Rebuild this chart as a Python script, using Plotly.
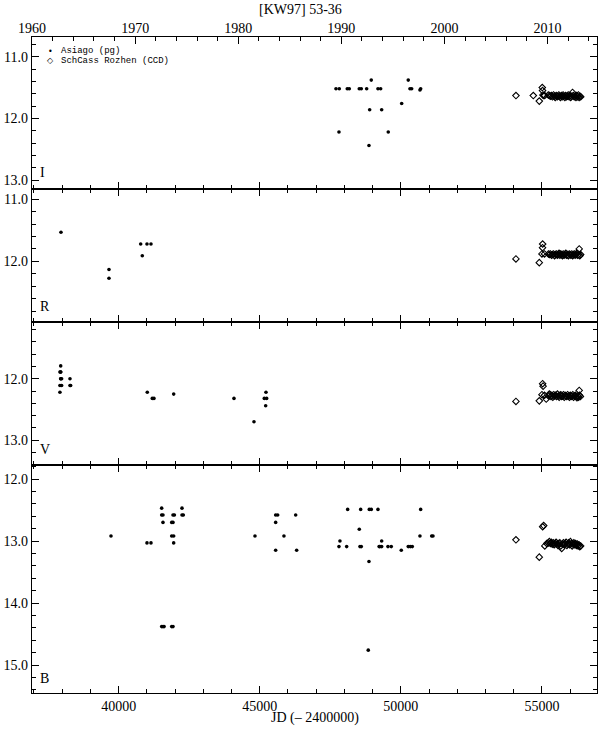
import plotly.graph_objects as go

# ---------------- DATA ----------------
# Panel I
I_asi_jd = [47701, 47818, 48101, 48172, 48526, 48597, 48788, 49189, 49284, 50323, 50383, 50677, 50702,
            48952, 50262, 48895, 49320, 50029, 47807, 49554, 48870]
I_asi_mag = [11.52, 11.52, 11.52, 11.52, 11.52, 11.52, 11.52, 11.52, 11.52, 11.52, 11.52, 11.54, 11.52,
             11.38, 11.38, 11.86, 11.86, 11.76, 12.22, 12.22, 12.44]
I_ccd_jd = [54078, 54692, 54905, 55010, 55020, 55035, 55060, 55095,
            55225, 55262, 55300, 55338, 55371, 55410, 55445, 55470, 55505, 55540, 55566, 55598,
            55630, 55655, 55690, 55718, 55748, 55775, 55812, 55840, 55868, 55902, 55930, 55962,
            55994, 56020, 56052, 56083, 56110, 56142, 56170, 56205, 56228, 56262, 56290, 56318,
            56345, 56372]
I_ccd_mag = [11.63, 11.63, 11.72, 11.50, 11.55, 11.62, 11.63, 11.63,
             11.62, 11.63, 11.64, 11.63, 11.65, 11.62, 11.64, 11.66, 11.63, 11.65, 11.64, 11.62,
             11.64, 11.66, 11.63, 11.65, 11.62, 11.64, 11.66, 11.63, 11.65, 11.64, 11.62, 11.65,
             11.63, 11.66, 11.64, 11.58, 11.63, 11.65, 11.64, 11.66, 11.63, 11.65, 11.62, 11.66,
             11.64, 11.65]

# Panel R
R_asi_jd = [37957, 39658, 39658, 40781, 40838, 41004, 41146]
R_asi_mag = [11.53, 12.13, 12.27, 11.72, 11.91, 11.72, 11.72]
R_ccd_jd = [54078, 54905, 55024, 55020, 55000, 55090,
            55230, 55265, 55300, 55340, 55372, 55410, 55446, 55478, 55510, 55545, 55572, 55605,
            55636, 55662, 55695, 55725, 55752, 55784, 55815, 55846, 55870, 55905, 55936, 55966,
            55998, 56025, 56058, 56088, 56115, 56148, 56176, 56210, 56236, 56266, 56296, 56340,
            56370, 56320]
R_ccd_mag = [11.96, 12.02, 11.72, 11.78, 11.88, 11.88,
             11.88, 11.89, 11.88, 11.90, 11.89, 11.88, 11.91, 11.89, 11.88, 11.90, 11.89, 11.87,
             11.90, 11.88, 11.89, 11.91, 11.88, 11.90, 11.89, 11.87, 11.90, 11.89, 11.91, 11.88,
             11.89, 11.90, 11.88, 11.91, 11.89, 11.88, 11.90, 11.89, 11.87, 11.90, 11.89, 11.91,
             11.89, 11.80]

# Panel V
V_asi_jd = [37947, 37947, 37947, 37947, 37947, 37920, 37980, 37920, 37980, 37920,
            38276, 38276, 38300,
            41015, 41192, 41252, 41951, 44087, 44796, 45221, 45161, 45245, 45210]
V_asi_mag = [11.79, 11.89, 11.89, 12.00, 12.00, 11.89, 12.00, 12.11, 12.11, 12.22,
             12.00, 12.11, 12.11,
             12.22, 12.32, 12.32, 12.25, 12.32, 12.70, 12.22, 12.32, 12.32, 12.44]
V_ccd_jd = [54078, 54905, 55024, 55040, 55000, 55090, 55150, 55260,
            55235, 55290, 55320, 55352, 55385, 55418, 55450, 55482, 55515, 55548, 55578, 55610,
            55640, 55668, 55700, 55730, 55760, 55790, 55820, 55852, 55880, 55910, 55942, 55972,
            56002, 56030, 56062, 56092, 56120, 56152, 56180, 56212, 56240, 56270, 56300, 56330,
            56360, 56320]
V_ccd_mag = [12.37, 12.36, 12.08, 12.12, 12.26, 12.27, 12.33, 12.25,
             12.28, 12.26, 12.29, 12.27, 12.30, 12.26, 12.28, 12.27, 12.29, 12.25, 12.28, 12.30,
             12.27, 12.26, 12.29, 12.28, 12.26, 12.30, 12.27, 12.28, 12.29, 12.26, 12.28, 12.30,
             12.27, 12.29, 12.28, 12.26, 12.30, 12.28, 12.27, 12.29, 12.31, 12.28, 12.30, 12.27,
             12.29, 12.19]

# Panel B
B_asi_jd = [39729, 41004, 41146,
            41525, 41525, 41571, 41571, 41525, 41571, 41610,
            41880, 41926, 41880, 41950, 41926, 41975, 41950, 41880, 41926,
            42245, 42245, 42291,
            44831, 45564, 45635, 45564, 45564, 45858, 46273, 46308,
            48115, 48576, 48881, 48952, 49189, 50702,
            47842, 47807, 48080, 48527, 48551, 48598, 48870, 48845,
            49320, 49230, 49260, 49320, 49543, 49660, 50015, 50262, 50333, 50404,
            50677, 51092, 51138]
B_asi_mag = [12.92, 13.03, 13.03,
             12.47, 12.58, 12.58, 12.70, 14.38, 14.38, 14.38,
             12.70, 12.70, 12.92, 12.92, 12.58, 12.58, 13.03, 14.38, 14.38,
             12.47, 12.58, 12.58,
             12.92, 12.58, 12.58, 12.70, 13.15, 12.92, 12.58, 13.15,
             12.49, 12.49, 12.49, 12.49, 12.49, 12.49,
             13.00, 13.09, 13.09, 12.81, 13.09, 13.09, 13.33, 14.76,
             13.00, 13.09, 13.09, 13.09, 13.09, 13.09, 13.15, 13.09, 13.09, 13.09,
             12.92, 12.92, 12.92]
B_ccd_jd = [54078, 54905, 55024, 55060, 55100, 55170,
            55225, 55262, 55298, 55330, 55365, 55400, 55432, 55466, 55500, 55534, 55566, 55600,
            55632, 55664, 55700, 55728, 55760, 55792, 55822, 55854, 55884, 55916, 55946, 55978,
            56008, 56040, 56070, 56100, 56130, 56160, 56190, 56220, 56250, 56280, 56310, 56340,
            56372]
B_ccd_mag = [12.98, 13.26, 12.77, 12.75, 13.08, 13.04,
             13.03, 13.01, 13.04, 13.02, 13.05, 13.03, 13.06, 13.04, 13.02, 13.05, 13.07, 13.04,
             13.03, 13.08, 13.12, 13.05, 13.03, 13.06, 13.04, 13.02, 13.07, 13.05, 13.03, 13.06,
             13.01, 13.04, 13.08, 13.05, 13.03, 13.06, 13.04, 13.07, 13.05, 13.08, 13.06, 13.09,
             13.08]

panel_names = ["I", "R", "V", "B"]
y_ranges = [[13.15, 10.676], [12.97, 10.84], [13.405, 11.07], [15.456, 11.774]]
x_range = [36930, 56950]
year_range = [1959.99, 2014.80]
title_text = "[KW97] 53-36"
xlabel_text = "JD (\u2013 2400000)"
legend_labels = ["Asiago (pg)", "SchCass Rozhen (CCD)"]

# ---------------- LAYOUT ----------------
W, H = 600, 729
px_left, px_right = 32, 597
px_bounds = [36.7, 189.3, 321.7, 465.0, 693.3]

def fy(p):
    return 1 - p / H

SERIF = "Liberation Serif"
MONO = "Liberation Mono"
tfont = dict(family=SERIF, size=14, color="black")

fig = go.Figure()
data = [(I_asi_jd, I_asi_mag, I_ccd_jd, I_ccd_mag),
        (R_asi_jd, R_asi_mag, R_ccd_jd, R_ccd_mag),
        (V_asi_jd, V_asi_mag, V_ccd_jd, V_ccd_mag),
        (B_asi_jd, B_asi_mag, B_ccd_jd, B_ccd_mag)]

for i, (aj, am, cj, cm) in enumerate(data):
    sx = "x" if i == 0 else f"x{i+1}"
    sy = "y" if i == 0 else f"y{i+1}"
    fig.add_trace(go.Scatter(x=aj, y=am, mode="markers", xaxis=sx, yaxis=sy,
                             marker=dict(symbol="circle", size=3.6, color="black"),
                             showlegend=False, cliponaxis=True))
    fig.add_trace(go.Scatter(x=cj, y=cm, mode="markers", xaxis=sx, yaxis=sy,
                             marker=dict(symbol="diamond-open", size=5, color="black",
                                         line=dict(width=1.1, color="black")),
                             showlegend=False, cliponaxis=True))

# empty trace so the top (year) axis gets drawn
fig.add_trace(go.Scatter(x=[], y=[], xaxis="x5", yaxis="y", showlegend=False))

xdom = [px_left / W, px_right / W]
layout = dict(width=W, height=H, margin=dict(l=0, r=0, t=0, b=0, autoexpand=False),
              paper_bgcolor="white", plot_bgcolor="white", showlegend=False)

for i in range(4):
    xa = "xaxis" if i == 0 else f"xaxis{i+1}"
    ya = "yaxis" if i == 0 else f"yaxis{i+1}"
    ydom = [fy(px_bounds[i + 1]), fy(px_bounds[i])]
    layout[xa] = dict(domain=xdom, range=x_range, anchor="y" if i == 0 else f"y{i+1}",
                      automargin=False,
                      showgrid=False, zeroline=False, showline=True, linecolor="black",
                      linewidth=1.3, mirror=True if i == 0 else "ticks",
                      ticks="inside", ticklen=7, tickwidth=1, tickcolor="black",
                      tick0=0, dtick=5000, tickformat="d",
                      minor=dict(dtick=1000, ticklen=4, ticks="inside", tickcolor="black",
                                 tickwidth=1, showgrid=False),
                      showticklabels=(i == 3), tickfont=tfont)
    if i > 0:
        layout[xa]["matches"] = "x"
    layout[ya] = dict(domain=ydom, range=y_ranges[i], anchor="x" if i == 0 else f"x{i+1}",
                      automargin=False,
                      showgrid=False, zeroline=False, showline=True, linecolor="black",
                      linewidth=1.3, mirror="ticks",
                      ticks="inside", ticklen=7, tickwidth=1, tickcolor="black",
                      tick0=0, dtick=1, tickformat=".1f",
                      minor=dict(dtick=0.2, ticklen=4, ticks="inside", tickcolor="black",
                                 tickwidth=1, showgrid=False),
                      tickfont=tfont)

layout["xaxis5"] = dict(domain=xdom, range=year_range, overlaying="x", side="top", anchor="y",
                        automargin=False,
                        showgrid=False, zeroline=False, showline=False,
                        ticks="inside", ticklen=7, tickwidth=1, tickcolor="black",
                        tick0=1960, dtick=10, tickformat="d",
                        minor=dict(dtick=2, ticklen=4, ticks="inside", tickcolor="black",
                                   tickwidth=1, showgrid=False),
                        tickfont=tfont)

fig.update_layout(**layout)

ann = []
ann.append(dict(text=title_text, x=0.5, y=fy(9), xref="paper", yref="paper",
                showarrow=False, font=dict(family=SERIF, size=14, color="black"),
                xanchor="center", yanchor="middle"))
ann.append(dict(text=xlabel_text, x=(px_left + px_right) / 2 / W, y=fy(718), xref="paper", yref="paper",
                showarrow=False, font=dict(family=SERIF, size=14, color="black"),
                xanchor="center", yanchor="middle"))
letter_y = [172, 306, 449, 678]
for name, ly in zip(panel_names, letter_y):
    ann.append(dict(text=name, x=38 / W, y=fy(ly), xref="paper", yref="paper",
                    showarrow=False, font=dict(family=SERIF, size=14, color="black"),
                    xanchor="left", yanchor="middle"))
legend_sym = ["\u2022", "\u25c7"]
legend_y = [51.5, 60.5]
for sym, lab, ly in zip(legend_sym, legend_labels, legend_y):
    ann.append(dict(text=sym, x=50 / W, y=fy(ly), xref="paper", yref="paper",
                    showarrow=False, font=dict(family="DejaVu Sans", size=8, color="black"),
                    xanchor="center", yanchor="middle"))
    ann.append(dict(text=lab, x=59 / W, y=fy(ly), xref="paper", yref="paper",
                    showarrow=False, font=dict(family=MONO, size=9, color="black"),
                    xanchor="left", yanchor="middle"))
fig.update_layout(annotations=ann)

fig.write_html("out.html", config={"displayModeBar": False},
               post_script="document.body.style.margin='0px';document.body.style.overflow='hidden';")
